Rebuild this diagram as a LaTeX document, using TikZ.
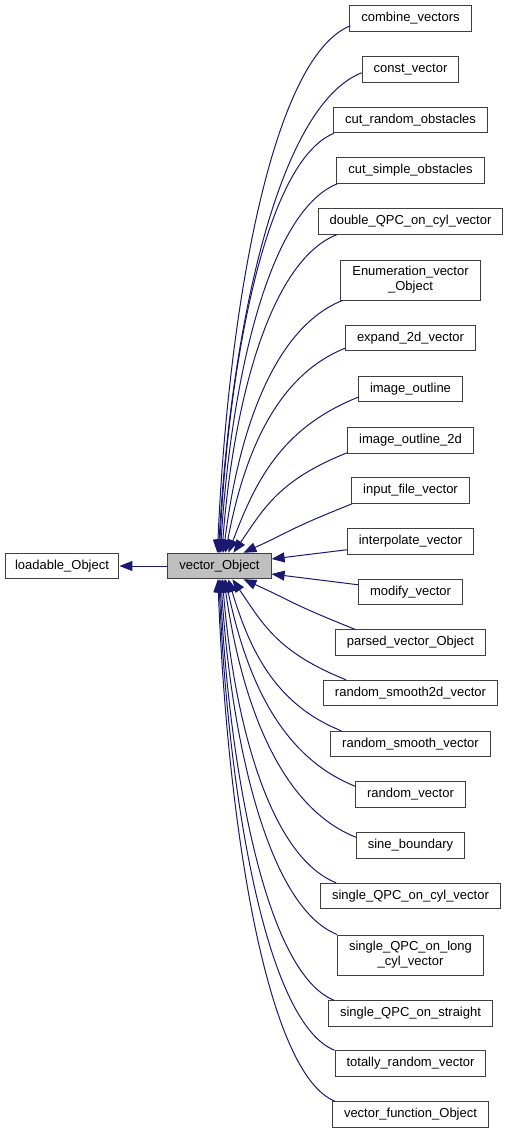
\documentclass[tikz,border=0pt]{standalone}
\usepackage{fontspec}
\setmainfont{Liberation Sans}
\usetikzlibrary{arrows.meta,calc}
\definecolor{edgeblue}{HTML}{191970}
\definecolor{boxgray}{HTML}{BFBFBF}
\definecolor{boxline}{HTML}{404040}
\tikzset{
  cls/.style={draw=boxline, line width=1pt, fill=white, inner xsep=11.5pt, inner ysep=0pt,
    minimum height=25.5pt, font=\fontsize{13}{15}\selectfont, align=center},
  cls2/.style={cls, minimum height=40pt},
  inh/.style={draw=edgeblue, line width=1pt, -{Triangle[length=13pt,width=10pt]}},
}
\newcommand\inhedge[3]{%
  \draw[inh] let \p1=(#1), \p2=(#2), \n1={\x1-\x2}, \n2={\y1-\y2},
      \n3={\n1/(abs(\n1)+abs(\n2))} in
    (\p1) .. controls ({\x1-0.6*\n1},{\y1-(#3)*0.24*\n1})
             and ({\x2+0.01*abs(\n2)+0.93*\n1*\n3*\n3},{\y2+0.45*\n2}) .. (\p2);}
\begin{document}
\begin{tikzpicture}[x=1pt,y=-1pt]
\fill[white] (0,0) rectangle (508,1133);
\useasboundingbox (0,0) rectangle (508,1133);
% central nodes
\node[cls, fill=boxgray] (vo) at (219.5,566) {vector\_Object};
\node[cls, inner xsep=10pt] (lo) at (62,566) {loadable\_Object};
% derived classes
\node[cls]  (combine) at (410.5,18.5)  {combine\_vectors};
\node[cls]  (const)   at (410.5,69.5)  {const\_vector};
\node[cls]  (cutr)    at (410.5,120)   {cut\_random\_obstacles};
\node[cls]  (cuts)    at (410.5,170.5) {cut\_simple\_obstacles};
\node[cls]  (double)  at (410.5,221.5) {double\_QPC\_on\_cyl\_vector};
\node[cls2] (enum)    at (410.5,280)   {Enumeration\_vector\\\_Object};
\node[cls]  (expand)  at (410.5,338)   {expand\_2d\_vector};
\node[cls]  (imgo)    at (410.5,389)   {image\_outline};
\node[cls]  (imgot)   at (410.5,440.5) {image\_outline\_2d};
\node[cls]  (input)   at (410.5,490.5) {input\_file\_vector};
\node[cls]  (interp)  at (410.5,541.5) {interpolate\_vector};
\node[cls]  (modify)  at (410.5,592)   {modify\_vector};
\node[cls]  (parsed)  at (410.5,642.5) {parsed\_vector\_Object};
\node[cls]  (rstwo)   at (410.5,693)   {random\_smooth2d\_vector};
\node[cls]  (rsv)     at (410.5,744)   {random\_smooth\_vector};
\node[cls]  (rv)      at (410.5,794.5) {random\_vector};
\node[cls]  (sine)    at (410.5,845.5) {sine\_boundary};
\node[cls]  (sqcyl)   at (410.5,896)   {single\_QPC\_on\_cyl\_vector};
\node[cls2] (sqlong)  at (410.5,955)   {single\_QPC\_on\_long\\\_cyl\_vector};
\node[cls]  (sqstr)   at (410.5,1013.5){single\_QPC\_on\_straight};
\node[cls]  (totally) at (410.5,1063.5){totally\_random\_vector};
\node[cls]  (vfun)    at (410.5,1114.5){vector\_function\_Object};
% inheritance to base
\draw[inh] (vo.west) -- (lo.east);
% edges from above
\inhedge{$(combine.south west)+(1,-6)$}{$(vo.north west)+(50,0)$}{1}
\inhedge{$(const.south west)+(0,-10)$}{$(vo.north west)+(51,0)$}{1}
\inhedge{$(cutr.south west)+(1,0)$}{$(vo.north west)+(52,0)$}{1}
\inhedge{$(cuts.south west)+(1,0)$}{$(vo.north west)+(53,0)$}{1}
\inhedge{$(double.south west)+(19,0)$}{$(vo.north west)+(54.5,0)$}{1}
\inhedge{$(enum.south west)+(2,0)$}{$(vo.north west)+(56,0)$}{1}
\inhedge{$(expand.south west)+(0,-3)$}{$(vo.north west)+(58,0)$}{1}
\inhedge{$(imgo.south west)+(0,-5)$}{$(vo.north west)+(61,0)$}{1}
\inhedge{$(imgot.south west)+(0,-1)$}{$(vo.north west)+(66,0)$}{1}
\inhedge{$(input.south west)+(1,0)$}{$(vo.north west)+(76,0)$}{1}
% nearly horizontal edges
\draw[inh] ($(interp.south west)+(0,-5)$) -- ($(vo.east)+(0,-7)$);
\draw[inh] ($(modify.north west)+(0,6)$) -- ($(vo.east)+(0,8)$);
% edges from below
\inhedge{$(parsed.north west)+(20,0)$}{$(vo.south west)+(76,0)$}{-1}
\inhedge{$(rstwo.north west)+(23,0)$}{$(vo.south west)+(65,0)$}{-1}
\inhedge{$(rsv.north west)+(11,0)$}{$(vo.south west)+(61,0)$}{-1}
\inhedge{$(rv.north west)+(0,5)$}{$(vo.south west)+(58,0)$}{-1}
\inhedge{$(sine.north west)+(0,5)$}{$(vo.south west)+(56.5,0)$}{-1}
\inhedge{$(sqcyl.north west)+(16,0)$}{$(vo.south west)+(55,0)$}{-1}
\inhedge{$(sqlong.north west)+(0,0)$}{$(vo.south west)+(53.5,0)$}{-1}
\inhedge{$(sqstr.north west)+(6,0)$}{$(vo.south west)+(52.5,0)$}{-1}
\inhedge{$(totally.north west)+(0,0)$}{$(vo.south west)+(51.5,0)$}{-1}
\inhedge{$(vfun.north west)+(3,0)$}{$(vo.south west)+(50.5,0)$}{-1}
\end{tikzpicture}
\end{document}
